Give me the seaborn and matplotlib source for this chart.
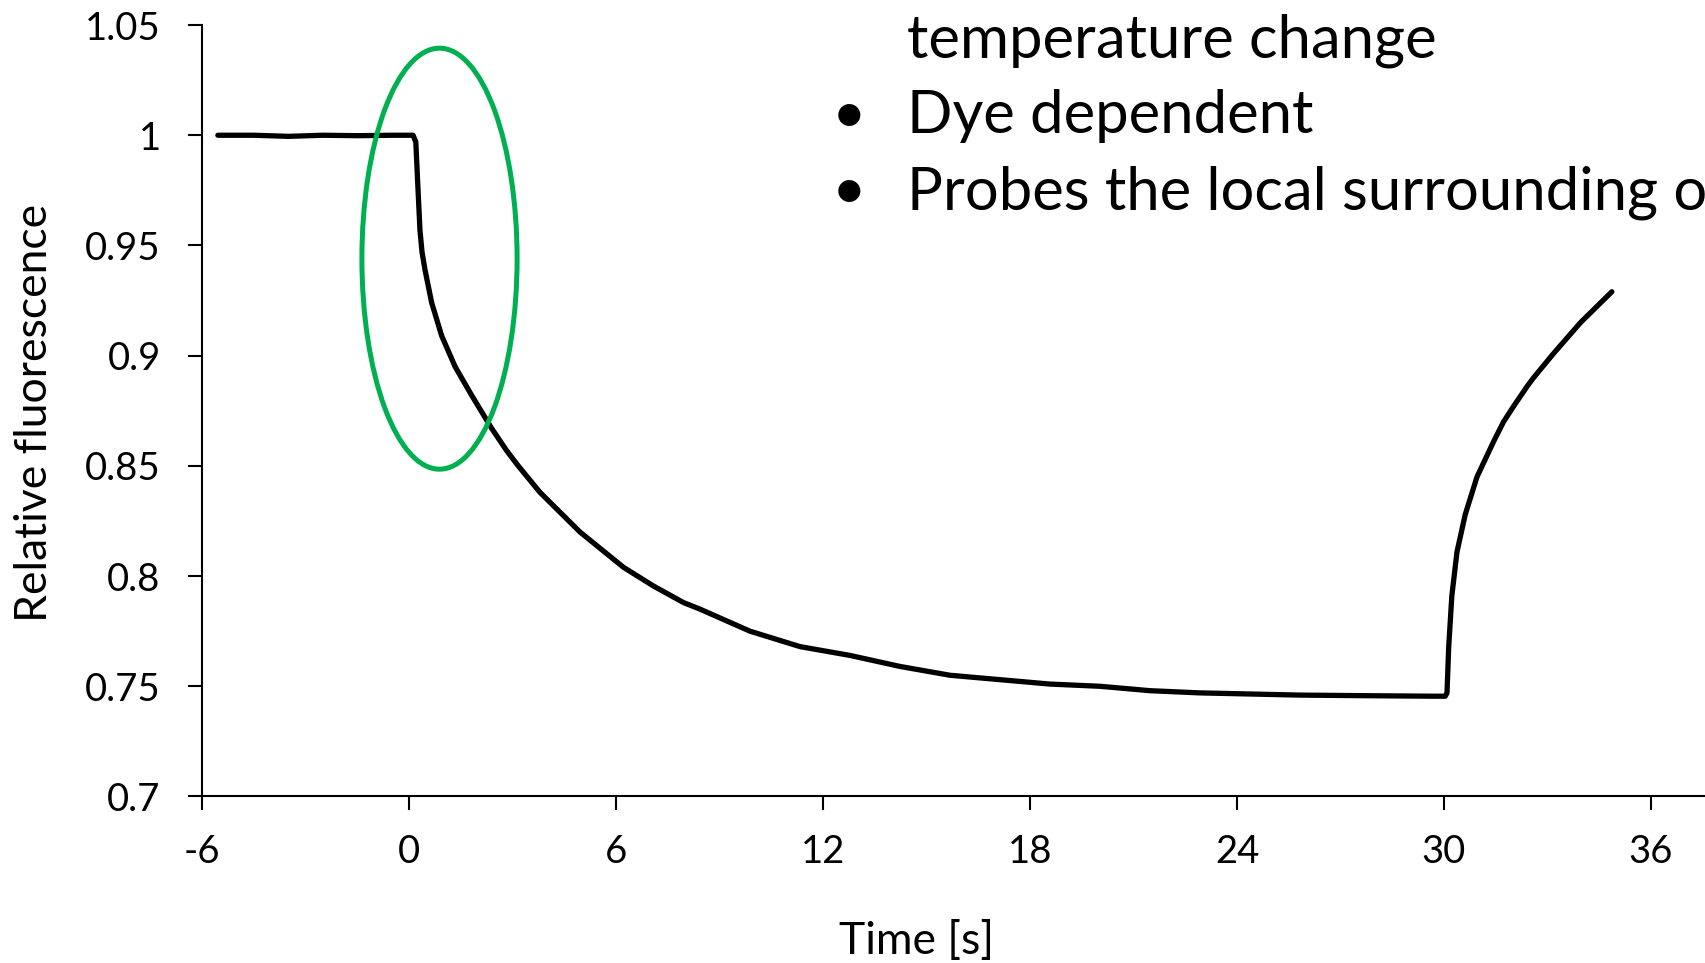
import matplotlib
matplotlib.use("Agg")
import matplotlib.pyplot as plt
import seaborn as sns
import pandas as pd
from matplotlib.patches import Ellipse

# ---- data ----
time_s = [-5.55, -4.5, -3.5, -2.5, -1.5, -0.5, 0.11, 0.19, 0.24, 0.31, 0.37, 0.456,
          0.65, 0.94, 1.33, 1.81, 2.39, 2.82, 3.16, 3.79, 4.37, 4.95, 5.58, 6.21,
          7.08, 7.95, 8.43, 9.88, 11.33, 12.78, 14.23, 15.68, 17.13, 18.58, 20.03,
          21.48, 22.93, 25.83, 28.0, 29.70, 30.04, 30.09, 30.14, 30.23, 30.38,
          30.62, 30.96, 31.44, 31.73, 32.02, 32.41, 32.6, 33.18, 33.96, 34.87]
rel_fluor = [1.0, 1.0, 0.9995, 1.0, 0.9998, 1.0, 1.0, 0.997, 0.980, 0.957, 0.947, 0.939,
             0.924, 0.909, 0.895, 0.882, 0.867, 0.857, 0.850, 0.838, 0.829, 0.820, 0.812, 0.804,
             0.7955, 0.788, 0.785, 0.775, 0.768, 0.764, 0.759, 0.755, 0.753, 0.751, 0.750,
             0.748, 0.747, 0.746, 0.7457, 0.7455, 0.7455, 0.747, 0.768, 0.791, 0.811,
             0.828, 0.845, 0.861, 0.870, 0.877, 0.886, 0.890, 0.901, 0.915, 0.929]

x_ticks = [-6, 0, 6, 12, 18, 24, 30, 36]
x_tick_labels = ["-6", "0", "6", "12", "18", "24", "30", "36"]
y_ticks = [0.7, 0.75, 0.8, 0.85, 0.9, 0.95, 1.0, 1.05]
y_tick_labels = ["0.7", "0.75", "0.8", "0.85", "0.9", "0.95", "1", "1.05"]

highlight_center = (0.877, 0.944)
highlight_size = (4.50, 0.191)

text_lines = ["temperature change", "Dye dependent", "Probes the local surrounding of"]
text_bullets = [False, True, True]

# ---- style ----
sns.set_theme(style="ticks")
plt.rcParams['font.family'] = ['Lato', 'DejaVu Sans']

fig = plt.figure(figsize=(17.06, 9.63), dpi=100)
ax = fig.add_axes([0.1186, 0.1729, 0.8814, 0.8011])

df = pd.DataFrame({"t": time_s, "f": rel_fluor})
sns.lineplot(data=df, x="t", y="f", ax=ax, color="black", linewidth=3.8,
             estimator=None, sort=False)

ax.add_patch(Ellipse(highlight_center, highlight_size[0], highlight_size[1],
                     fill=False, edgecolor="#00B050", linewidth=3.6, zorder=3))

ax.set_xlim(-6, 37.6)
ax.set_ylim(0.7, 1.05)
ax.set_xticks(x_ticks)
ax.set_xticklabels(x_tick_labels)
ax.set_yticks(y_ticks)
ax.set_yticklabels(y_tick_labels)

for s in ["top", "right"]:
    ax.spines[s].set_visible(False)
for s in ["left", "bottom"]:
    ax.spines[s].set_linewidth(1.5)
    ax.spines[s].set_color("black")

ax.tick_params(axis="both", direction="out", length=10, width=1.5, colors="black",
               labelsize=27.5)
ax.tick_params(axis="y", pad=20)
ax.tick_params(axis="x", pad=17)

ax.set_xlabel("Time [s]", fontsize=32, color="black")
ax.set_ylabel("Relative fluorescence", fontsize=32, color="black")
ax.xaxis.set_label_coords(0.475, -0.161)
ax.yaxis.set_label_coords(-0.098, 0.497)

# ---- slide text in upper right (runs off the right edge, as in the reference) ----
baselines = [1 - 57 / 963, 1 - 133 / 963, 1 - 209 / 963]
for line, bul, yb in zip(text_lines, text_bullets, baselines):
    fig.text(907 / 1706, yb, line, fontsize=43, va="baseline", ha="left", color="black")
    if bul:
        fig.text(849 / 1706, yb, "\u2022", fontsize=43, va="baseline", ha="center",
                 color="black")

fig.savefig("out.png", dpi=100, facecolor="white")
